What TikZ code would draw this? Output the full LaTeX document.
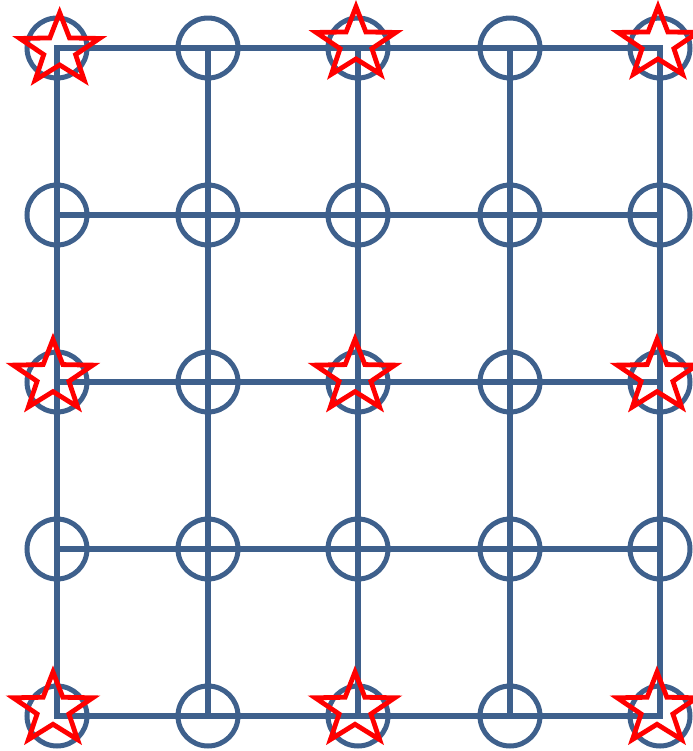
\documentclass[tikz,border=0pt]{standalone}
\usetikzlibrary{shapes.geometric}
\definecolor{gridblue}{RGB}{62, 96, 140}
\definecolor{starred}{RGB}{255, 0, 0}

\begin{document}
\begin{tikzpicture}[
    x=0.75pt, y=-0.75pt,
    site/.style={draw=gridblue, circle, line width=3.75pt,
                 minimum size=45pt, inner sep=0pt},
    link/.style={draw=gridblue, line width=3.9pt, line cap=rect},
    starmark/.style={draw=starred, star, star points=5,
                     star point ratio=2.5, line width=3.6pt,
                     minimum size=56pt, inner sep=0pt},
]
    \useasboundingbox (0,0) rectangle (693,751);

    % circles on a 5 x 5 grid
    \foreach \col/\x in {0/57, 1/208, 2/358, 3/510, 4/660}
      \foreach \row/\y in {0/48, 1/215, 2/382, 3/549, 4/716}
        \node[site] (c-\col-\row) at (\x,\y) {};

    % grid lines through the circles
    \foreach \k in {0,...,4} {
      \draw[link] (c-0-\k.center) -- (c-4-\k.center);
      \draw[link] (c-\k-0.center) -- (c-\k-4.center);
    }

    % stars on every second site
    \foreach \col/\row/\dx/\dy in {0/0/2/-1.5, 2/0/-1.5/3, 4/0/-1.5/3,
        0/2/-3/4, 2/2/-2.25/4, 4/2/-2.25/4,
        0/4/-3/5, 2/4/-2.25/5, 4/4/-2.25/5}
      \node[starmark, xshift=\dx pt, yshift=\dy pt,
            xscale=1.12, transform shape] (s-\col-\row)
          at (c-\col-\row) {};
\end{tikzpicture}
\end{document}
